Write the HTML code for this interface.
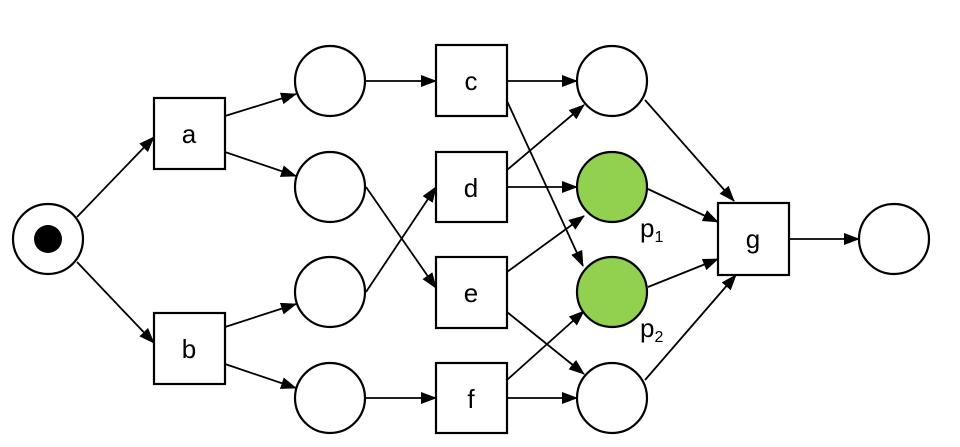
<!DOCTYPE html>
<html><head><meta charset="utf-8"><style>
html,body{margin:0;padding:0;background:#fff;}
svg{display:block;}
text{font-family:"Liberation Sans",Arial,sans-serif;font-size:26px;fill:#000;}
</style></head><body>
<svg width="960" height="447" viewBox="0 0 960 447" xmlns="http://www.w3.org/2000/svg">
<defs>
<marker id="ar" markerWidth="16" markerHeight="12" refX="15" refY="6" orient="auto" markerUnits="userSpaceOnUse">
<path d="M0,0 L16,6 L0,12 z" fill="#000"/>
</marker>
</defs>
<g stroke="#000" stroke-width="1.8" fill="none" marker-end="url(#ar)">
<line x1="77" y1="217" x2="154" y2="137"/>
<line x1="77" y1="262" x2="154" y2="343"/>
<line x1="225" y1="116" x2="296" y2="94"/>
<line x1="225" y1="152" x2="296" y2="176"/>
<line x1="225" y1="327" x2="296" y2="304"/>
<line x1="225" y1="364" x2="296" y2="388"/>
<line x1="365" y1="81" x2="436" y2="81"/>
<line x1="366" y1="187" x2="436" y2="288"/>
<line x1="366" y1="292" x2="436" y2="187"/>
<line x1="365" y1="398" x2="436" y2="398"/>
<line x1="507" y1="81" x2="577" y2="81"/>
<line x1="507" y1="101" x2="583" y2="266"/>
<line x1="507" y1="170" x2="584" y2="105"/>
<line x1="507" y1="187" x2="577" y2="187"/>
<line x1="507" y1="272" x2="584" y2="216"/>
<line x1="507" y1="312" x2="584" y2="374"/>
<line x1="507" y1="380" x2="584" y2="311"/>
<line x1="507" y1="398" x2="577" y2="398"/>
<line x1="645" y1="100" x2="734" y2="201"/>
<line x1="648" y1="189" x2="718" y2="222"/>
<line x1="648" y1="287" x2="718" y2="259"/>
<line x1="645" y1="380" x2="736" y2="275"/>
<line x1="789" y1="239" x2="859" y2="239"/>
</g>
<g stroke="#000" stroke-width="2.2" fill="#fff">
<circle cx="48" cy="239" r="35"/>
<circle cx="330" cy="81" r="35"/>
<circle cx="330" cy="187" r="35"/>
<circle cx="330" cy="292" r="35"/>
<circle cx="330" cy="398" r="35"/>
<circle cx="612" cy="81" r="35"/>
<circle cx="612" cy="187" r="35" fill="#92d050"/>
<circle cx="612" cy="292" r="35" fill="#92d050"/>
<circle cx="612" cy="398" r="35"/>
<circle cx="894" cy="239" r="35"/>
<rect x="154" y="98" width="71" height="71"/>
<rect x="154" y="313" width="71" height="71"/>
<rect x="436" y="45" width="71" height="71"/>
<rect x="436" y="152" width="71" height="70"/>
<rect x="436" y="257" width="71" height="71"/>
<rect x="436" y="363" width="71" height="70"/>
<rect x="718" y="203" width="71" height="72"/>
</g>
<circle cx="48" cy="239" r="14" fill="#000"/>
<g text-anchor="middle">
<text x="189" y="143">a</text>
<text x="189" y="358">b</text>
<text x="471" y="90">c</text>
<text x="471" y="197">d</text>
<text x="471" y="302">e</text>
<text x="471" y="408">f</text>
<text x="753" y="248">g</text>
</g>
<text x="640" y="237">p<tspan font-size="16" dy="5">1</tspan></text>
<text x="640" y="337">p<tspan font-size="16" dy="5">2</tspan></text>
</svg>
</body></html>
